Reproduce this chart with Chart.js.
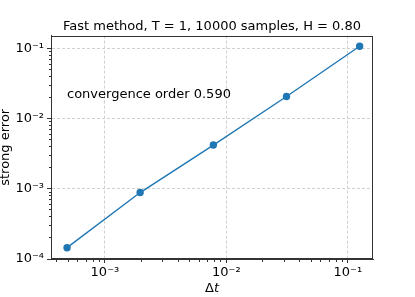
<!DOCTYPE html>
<html>
<head>
<meta charset="utf-8">
<script src="https://cdn.jsdelivr.net/npm/chart.js@4"></script>
<style>
  html, body { margin: 0; padding: 0; background: #fff; }
  #wrap { width: 415px; height: 297px; }
</style>
</head>
<body>
<div id="wrap"><canvas id="myChart" width="415" height="297"></canvas></div>
<script>
// data
const dt = [0.000488, 0.00195, 0.00781, 0.03125, 0.125];
const strongError = [0.000145, 0.000886, 0.00421, 0.0207, 0.108];

const titleText = "Fast method, T = 1, 10000 samples, H = 0.80";
const yLabel = "strong error";
const annotation = "convergence order 0.590";

const xRange = [0.00036, 0.161];
const yRange = [0.0001, 0.153];

const FONT = "'DejaVu Sans', sans-serif";
const sup = { "-": "\u207B", "0": "\u2070", "1": "\u00B9", "2": "\u00B2", "3": "\u00B3",
  "4": "\u2074", "5": "\u2075", "6": "\u2076", "7": "\u2077", "8": "\u2078", "9": "\u2079" };

function isPow10(v) {
  const l = Math.log10(v);
  return Math.abs(l - Math.round(l)) < 1e-9;
}

function powLabel(v) {
  if (!isPow10(v)) return "";
  const e = String(Math.round(Math.log10(v)));
  return "10" + e.split("").map((c) => sup[c]).join("");
}

// log ticks 1..9 x 10^n inside the range
function logTicks(scale) {
  const ticks = [];
  const lo = Math.floor(Math.log10(scale.min));
  const hi = Math.ceil(Math.log10(scale.max));
  for (let e = lo; e <= hi; e++) {
    for (let m = 1; m < 10; m++) {
      const v = m * Math.pow(10, e);
      if (v >= scale.min * 0.9999 && v <= scale.max * 1.0001) ticks.push({ value: v });
    }
  }
  scale.ticks = ticks;
}

const gridColor = (ctx) => (ctx.tick && isPow10(ctx.tick.value) ? "#d0d0d0" : "rgba(0,0,0,0)");

// annotation text and x label with italic t
const extras = {
  id: "extras",
  afterDraw(chart) {
    const c = chart.ctx;
    const a = chart.chartArea;
    c.save();
    c.fillStyle = "#000";
    c.textBaseline = "alphabetic";
    c.textAlign = "left";
    c.font = "13px " + FONT;
    c.fillText(annotation, a.left + 16, 97.5);

    const cx = (a.left + a.right) / 2;
    const w1 = c.measureText("\u0394").width;
    c.font = "italic 13px " + FONT;
    const w2 = c.measureText("t").width;
    const x0 = cx - (w1 + w2) / 2;
    c.font = "13px " + FONT;
    c.fillText("\u0394", x0, 291.5);
    c.font = "italic 13px " + FONT;
    c.fillText("t", x0 + w1, 291.5);
    c.restore();
  },
};

const ctx = document.getElementById("myChart").getContext("2d");

const myChart = new Chart(ctx, {
  type: "scatter",
  data: {
    datasets: [
      {
        data: dt.map((x, i) => ({ x: x, y: strongError[i] })),
        showLine: true,
        borderColor: "#1f77b4",
        backgroundColor: "#1f77b4",
        borderWidth: 1.4,
        pointRadius: 3,
        pointHoverRadius: 3,
      },
    ],
  },
  options: {
    responsive: false,
    animation: false,
    devicePixelRatio: 1,
    layout: { padding: { left: 0, right: 42, top: 0, bottom: 0 } },
    plugins: {
      legend: { display: false },
      tooltip: { enabled: false },
      title: {
        display: true,
        text: titleText,
        fullSize: false,
        color: "#000",
        font: { family: FONT, size: 13, weight: "normal", lineHeight: 1.2 },
        padding: { top: 19, bottom: 1 },
      },
    },
    scales: {
      x: {
        type: "logarithmic",
        min: xRange[0],
        max: xRange[1],
        afterBuildTicks: logTicks,
        afterFit: (s) => { s.height = 38; },
        grid: {
          color: gridColor,
          lineWidth: 1,
          tickLength: 4,
          tickColor: "#333",
          tickBorderDash: (c) => (c.tick && isPow10(c.tick.value) ? [] : [2, 100]),
        },
        border: { color: "#333", width: 1, dash: [3, 2] },
        ticks: {
          autoSkip: false,
          maxRotation: 0,
          padding: 2,
          color: "#000",
          font: { family: FONT, size: 13 },
          callback: (v) => powLabel(v),
        },
      },
      y: {
        type: "logarithmic",
        min: yRange[0],
        max: yRange[1],
        afterBuildTicks: logTicks,
        afterFit: (s) => { s.width = 51; },
        grid: {
          color: gridColor,
          lineWidth: 1,
          tickLength: 4,
          tickColor: "#333",
          tickBorderDash: (c) => (c.tick && isPow10(c.tick.value) ? [] : [0, 2, 2, 100]),
        },
        border: { color: "#333", width: 1, dash: [3, 2] },
        title: {
          display: true,
          text: yLabel,
          color: "#000",
          padding: 0,
          font: { family: FONT, size: 13, lineHeight: 0.85 },
        },
        ticks: {
          autoSkip: false,
          padding: 3,
          color: "#000",
          font: { family: FONT, size: 13 },
          callback: (v) => powLabel(v),
        },
      },
    },
  },
  plugins: [
    extras,
    {
      id: "frame",
      afterDraw(chart) {
        const a = chart.chartArea;
        const c = chart.ctx;
        c.save();
        c.strokeStyle = "#333";
        c.lineWidth = 1;
        c.strokeRect(Math.round(a.left) + 0.5, Math.round(a.top) + 0.5,
          Math.round(a.right - a.left) - 1, Math.round(a.bottom - a.top) - 1);
        c.restore();
      },
    },
  ],
});
</script>
</body>
</html>
